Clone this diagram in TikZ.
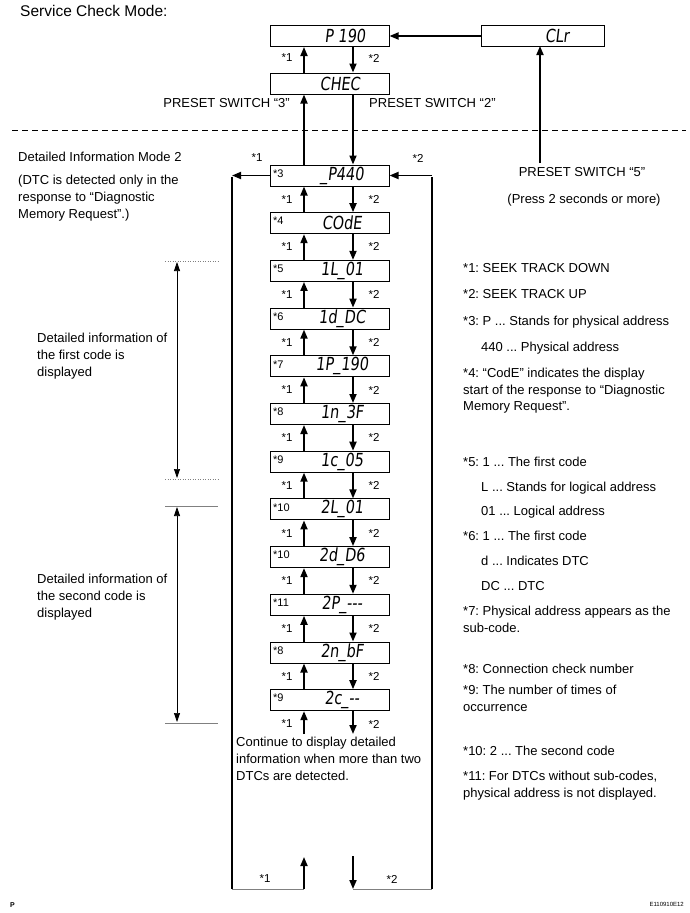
\documentclass[tikz,border=0pt]{standalone}
\usepackage{fontspec}
\setmainfont{Liberation Sans}
\newfontfamily\segfont[FakeSlant=0.12,FakeStretch=0.8]{DejaVu Sans}
\usetikzlibrary{arrows.meta}
\frenchspacing
\begin{document}
\begin{tikzpicture}[x=1pt,y=-1pt,
  lbl/.style={font=\frenchspacing\fontsize{13}{15}\selectfont, anchor=base west, inner sep=0pt},
  starlbl/.style={font=\fontsize{11.5}{13}\selectfont, inner sep=0pt},
  boxlbl/.style={font=\fontsize{11}{12}\selectfont, anchor=west, inner sep=0pt},
  disp/.style={draw, line width=1pt, minimum width=119pt, minimum height=21pt, inner sep=0pt},
  seg/.style={font=\segfont\fontsize{18}{18}\selectfont, inner sep=0pt},
  arr/.style={line width=1.8pt, -{Triangle[length=9pt,width=7pt]}},
  wrapline/.style={line width=2.2pt},
  dimarr/.style={line width=0.7pt, {Triangle[length=9pt,width=6pt]}-{Triangle[length=9pt,width=6pt]}},
  guide/.style={line width=0.5pt, gray},
]
\useasboundingbox (0,0) rectangle (690,913);

% title
\node[font=\fontsize{15.5}{17}\selectfont, anchor=base west, inner sep=0pt] (title) at (20,16) {Service Check Mode:};

% top boxes
\node[disp] (p190) at (329.5,36) {};
\node[seg] (p190t) at (345,36) {P 190};
\node[disp, minimum width=123pt] (clr) at (542.5,36) {};
\node[seg] (clrt) at (557,36) {CLr};
\node[disp] (chec) at (329.5,83.5) {};
\node[seg] (chect) at (340,83.5) {CHEC};

\draw[arr] (clr.west) -- (p190.east);
\draw[arr] ([xshift=-25.5pt]chec.north) -- ([xshift=-25.5pt]p190.south);
\draw[arr] ([xshift=23.5pt]p190.south) -- ([xshift=23.5pt]chec.north);
\node[starlbl] (s1top) at (287,58) {*1};
\node[starlbl] (s2top) at (374,58) {*2};

\node[lbl, anchor=base east] (ps3) at (290,107) {PRESET SWITCH \char"201C 3\char"201D};
\node[lbl] (ps2) at (369,107) {PRESET SWITCH \char"201C 2\char"201D};

% dashed separator
\draw[dash pattern=on 6pt off 4pt, line width=0.8pt] (12,130) -- (686,130);

% preset switch 5
\coordinate (p5) at (540,163);
\draw[arr] (p5) -- (540,46);
\node[lbl, anchor=base] (ps5) at (582,176) {PRESET SWITCH \char"201C 5\char"201D};
\node[lbl, anchor=base] (ps5b) at (584,203) {(Press 2 seconds or more)};

% left notes
\node[lbl] (dim2) at (18,161) {Detailed Information Mode 2};
\node[lbl] (dtc1) at (18,184) {(DTC is detected only in the};
\node[lbl] (dtc2) at (18,201) {response to \char"201C Diagnostic};
\node[lbl] (dtc3) at (18,218) {Memory Request\char"201D.)};

% main column
\foreach \i/\tg/\code in {0/3/\_P440, 1/4/COdE, 2/5/1L\_01, 3/6/1d\_DC, 4/7/1P\_190, 5/8/1n\_3F, 6/9/1c\_05, 7/10/2L\_01, 8/10/2d\_D6, 9/11/2P\_-\kern0pt-\kern0pt-, 10/8/2n\_bF, 11/9/2c\_-\kern0pt-}{
  \pgfmathsetmacro{\yy}{175.5+\i*47.7}
  \node[disp] (b\i) at (329.5,\yy) {};
  \node[boxlbl] (bl\i) at (273,\yy-2) {*\tg};
  \node[seg] (bt\i) at (342,\yy) {\code};
}
\foreach \i in {1,...,11}{
  \pgfmathtruncatemacro{\j}{\i-1}
  \pgfmathsetmacro{\ym}{175.5+\i*47.7-24}
  \draw[arr] ([xshift=-25.5pt]b\i.north) -- ([xshift=-25.5pt]b\j.south);
  \draw[arr] ([xshift=23.5pt]b\j.south) -- ([xshift=23.5pt]b\i.north);
  \node[starlbl] (sa\i) at (287,\ym) {*1};
  \node[starlbl] (sb\i) at (374,\ym) {*2};
}
% between CHEC and first box
\draw[arr] ([xshift=-25.5pt]b0.north) -- ([xshift=-25.5pt]chec.south);
\draw[arr] ([xshift=23.5pt]chec.south) -- ([xshift=23.5pt]b0.north);

% below last box
\coordinate (ua) at (304,734);
\coordinate (da) at (353,734);
\draw[arr] (ua) -- ([xshift=-25.5pt]b11.south);
\draw[arr] ([xshift=23.5pt]b11.south) -- (da);
\node[starlbl] (sa12) at (287,724) {*1};
\node[starlbl] (sb12) at (374,724) {*2};

\node[lbl] (cont1) at (236,746) {Continue to display detailed};
\node[lbl] (cont2) at (236,763) {information when more than two};
\node[lbl] (cont3) at (236,780) {DTCs are detected.};

% wrap-around lines
\coordinate (cl) at (232,175.5);
\coordinate (clb) at (232,889);
\coordinate (cr) at (432,175.5);
\coordinate (crb) at (432,889);
\draw[arr] (b0.west) -- (cl);
\draw[wrapline] ([yshift=-1pt]cl) -- (clb);
\draw[wrapline] (crb) -- ([yshift=-1pt]cr);
\draw[arr] (cr) -- (b0.east);
\node[starlbl] (s1w) at (257,158) {*1};
\node[starlbl] (s2w) at (418,158) {*2};

% bottom
\coordinate (bu1) at (304,889);
\coordinate (bu2) at (304,857);
\coordinate (bd1) at (353,856);
\coordinate (bd2) at (353,889);
\draw[arr] (bu1) -- (bu2);
\draw[arr] (bd1) -- (bd2);
\draw[guide] (clb) -- (bu1);
\draw[guide] (bd2) -- (crb);
\node[starlbl] (sa13) at (265,879) {*1};
\node[starlbl] (sb13) at (392,879) {*2};

% dimension brackets
\draw[guide, dotted] (165,261) -- (218,261);
\draw[guide, dotted] (165,479) -- (218,479);
\draw[dimarr] (177,262) -- (177,478);
\draw[guide] (165,506) -- (218,506);
\draw[guide] (165,723) -- (218,723);
\draw[dimarr] (177,507) -- (177,722);

\node[lbl] (f1) at (37,342) {Detailed information of};
\node[lbl] (f2) at (37,359) {the first code is};
\node[lbl] (f3) at (37,376) {displayed};
\node[lbl] (g1) at (37,583) {Detailed information of};
\node[lbl] (g2) at (37,600) {the second code is};
\node[lbl] (g3) at (37,617) {displayed};

% right notes
\node[lbl] (n1) at (463,272) {*1: SEEK TRACK DOWN};
\node[lbl] (n2) at (463,298) {*2: SEEK TRACK UP};
\node[lbl] (n3) at (463,325) {*3: P ... Stands for physical address};
\node[lbl] (n3b) at (481,351) {440 ... Physical address};
\node[lbl] (n4) at (463,377) {*4: \char"201C CodE\char"201D{} indicates the display};
\node[lbl] (n4b) at (463,394) {start of the response to \char"201C Diagnostic};
\node[lbl] (n4c) at (463,410) {Memory Request\char"201D.};
\node[lbl] (n5) at (463,466) {*5: 1 ... The first code};
\node[lbl] (n5b) at (481,491) {L ... Stands for logical address};
\node[lbl] (n5c) at (481,515) {01 ... Logical address};
\node[lbl] (n6) at (463,540) {*6: 1 ... The first code};
\node[lbl] (n6b) at (481,565) {d ... Indicates DTC};
\node[lbl] (n6c) at (481,590) {DC ... DTC};
\node[lbl] (n7) at (463,615) {*7: Physical address appears as the};
\node[lbl] (n7b) at (463,632) {sub-code.};
\node[lbl] (n8) at (463,673) {*8: Connection check number};
\node[lbl] (n9) at (463,694) {*9: The number of times of};
\node[lbl] (n9b) at (463,711) {occurrence};
\node[lbl] (n10) at (463,755) {*10: 2 ... The second code};
\node[lbl] (n11) at (463,780) {*11: For DTCs without sub-codes,};
\node[lbl] (n11b) at (463,797) {physical address is not displayed.};

% footer
\node[font=\bfseries\fontsize{7}{8}\selectfont, anchor=base west, inner sep=0pt] (pfoot) at (10,907) {P};
\node[font=\fontsize{6}{7}\selectfont, anchor=base east, inner sep=0pt] (efoot) at (684,906) {E110910E12};
\end{tikzpicture}
\end{document}
